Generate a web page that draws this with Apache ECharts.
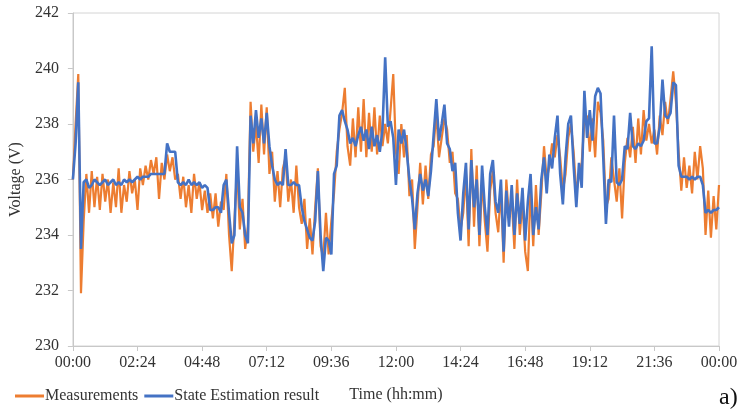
<!DOCTYPE html>
<html>
<head>
<meta charset="utf-8">
<script src="https://cdn.jsdelivr.net/npm/echarts@6/dist/echarts.min.js"></script>
<style>html,body{margin:0;padding:0;background:#fff;}#chart{width:747px;height:415px;}</style>
</head>
<body>
<div id="chart"></div>
<script>
// Sampling step of the traces in minutes (0 .. 1440)
var stepMinutes = 6;
var xTickLabels = ["00:00","02:24","04:48","07:12","09:36","12:00","14:24","16:48","19:12","21:36","00:00"];
var seriesNames = ["Measurements", "State Estimation result"];

var measurements = [
236.0,238.0,239.8,231.9,234.5,236.2,234.8,236.3,235.0,236.1,
234.9,236.2,235.2,236.0,234.8,235.9,235.0,236.4,234.8,235.8,
235.2,236.3,235.5,236.0,234.9,236.4,235.8,236.5,236.0,236.7,
236.2,236.8,235.3,236.6,236.0,236.9,236.3,236.8,236.0,236.2,
235.3,236.1,235.0,235.8,234.8,236.2,235.3,235.9,234.9,235.6,
234.8,235.5,234.6,235.5,234.3,235.2,234.9,236.2,234.0,232.7,
234.5,236.4,234.2,235.3,233.5,234.3,238.8,237.0,238.0,236.6,
238.7,236.9,238.6,236.2,237.0,235.2,236.3,235.0,236.4,236.8,
235.2,236.0,234.8,236.5,235.0,234.4,235.3,233.5,234.6,233.3,
235.0,236.4,233.6,233.2,234.8,233.3,234.5,235.5,237.0,237.8,
238.4,239.3,237.2,236.5,238.2,236.8,238.6,237.0,238.9,236.8,
238.4,237.0,238.6,236.9,238.3,237.2,238.0,237.3,238.5,239.8,
237.0,236.2,238.0,236.8,237.6,235.4,236.0,233.5,235.0,236.6,
235.1,236.5,235.3,236.9,237.2,238.4,236.8,237.5,238.2,237.8,
236.6,237.0,235.5,235.3,234.2,234.8,236.2,233.6,237.1,234.3,
236.5,233.6,236.0,234.5,233.4,235.6,236.3,234.8,234.1,235.7,
233.0,236.0,234.6,235.3,233.5,236.0,234.0,235.2,233.4,232.7,
235.7,233.6,235.8,234.0,235.5,237.2,236.0,236.5,237.3,236.8,
237.6,236.8,235.6,236.2,237.5,238.0,237.0,235.5,236.2,236.6,
238.1,238.3,237.0,238.2,236.8,238.8,238.4,237.4,235.0,235.3,
236.8,236.0,235.2,236.4,234.6,236.6,237.5,236.8,237.9,236.6,
238.2,236.9,238.5,237.4,238.0,237.3,237.8,236.9,238.3,237.6,
238.8,238.0,238.9,239.9,238.8,237.0,235.6,236.8,235.7,236.5,
235.5,237.0,236.0,237.2,236.4,234.0,235.6,233.9,235.4,234.2,
235.8
];

var stateEstimation = [
236.0,237.3,239.5,233.5,235.9,236.0,235.7,235.8,236.0,235.9,
235.8,235.9,236.0,235.8,235.9,236.0,235.8,235.9,235.8,236.0,
235.9,236.0,235.9,236.0,236.1,236.0,236.1,236.1,236.1,236.2,
236.2,236.2,236.2,236.2,236.2,237.3,237.0,237.0,237.0,235.9,
235.8,235.9,235.8,236.0,235.8,235.9,235.8,235.9,235.7,235.8,
235.7,234.9,234.9,235.0,235.0,234.8,235.8,236.0,234.8,233.7,
234.0,237.2,235.0,234.8,234.0,233.7,238.3,237.3,238.5,237.5,
238.2,237.3,238.4,237.2,236.5,236.0,235.8,235.9,235.8,237.1,
235.8,235.8,235.9,235.8,235.8,235.0,234.5,234.2,233.9,233.8,
234.5,236.3,234.0,232.7,233.9,233.8,233.3,236.2,236.5,238.3,
238.5,238.1,237.8,237.3,237.5,237.2,237.6,237.9,237.4,237.8,
237.1,237.9,237.2,237.6,237.0,237.8,240.4,237.9,238.1,237.5,
235.8,237.8,237.3,237.8,237.0,236.0,235.3,234.2,235.5,236.2,
235.6,236.0,235.4,236.3,237.6,238.9,237.4,238.0,238.7,237.3,
237.1,236.3,236.6,234.8,233.8,235.5,236.6,234.2,236.7,235.0,
236.0,234.0,236.5,235.0,234.0,236.2,236.7,235.2,234.8,236.0,
233.4,235.6,234.3,235.8,234.0,235.5,234.4,235.7,233.8,235.2,
236.2,234.0,235.0,234.2,236.0,236.8,235.5,236.9,236.4,237.5,
238.3,236.2,235.1,236.8,238.0,238.3,236.5,235.0,236.6,235.7,
239.2,237.5,238.5,237.4,239.0,239.3,239.1,236.8,234.4,236.0,
235.9,238.3,235.9,235.8,236.0,237.2,237.1,238.4,237.2,237.1,
237.3,237.2,237.4,238.1,238.2,240.8,237.3,237.3,237.9,239.6,
238.3,238.2,238.4,239.5,239.4,236.5,236.1,236.1,236.1,236.0,
236.1,236.0,236.1,236.1,235.8,234.8,234.9,234.8,234.9,234.9,
235.0
];

function toPairs(vals) {
  var out = [];
  for (var i = 0; i < vals.length; i++) out.push([i * stepMinutes, vals[i]]);
  return out;
}

var font = '"Liberation Serif", "Times New Roman", serif';
var textColor = '#333333';

var chart = echarts.init(document.getElementById('chart'));
chart.setOption({
  animation: false,
  backgroundColor: '#ffffff',
  textStyle: { fontFamily: font },
  grid: { left: 72, right: 28, top: 13, bottom: 69, show: true, borderColor: '#d4d4d4', borderWidth: 1, backgroundColor: 'transparent' },
  legend: {
    left: 10, top: 383,
    itemWidth: 29, itemHeight: 3, itemGap: 6, icon: 'rect',
    textStyle: { fontFamily: font, fontSize: 16, color: textColor, padding: [0, 0, 0, -4] },
    data: seriesNames
  },
  xAxis: {
    type: 'value', min: 0, max: 1440, interval: 144,
    name: 'Time (hh:mm)', nameLocation: 'middle', nameGap: 41,
    nameTextStyle: { fontFamily: font, fontSize: 16, color: textColor },
    axisLine: { show: true, lineStyle: { color: '#c8c8c8', width: 1 } },
    axisTick: { show: true, length: 5, lineStyle: { color: '#c8c8c8' } },
    splitLine: { show: false },
    axisLabel: {
      fontFamily: font, fontSize: 16, color: textColor, margin: 9,
      formatter: function (v) { return xTickLabels[Math.round(v / 144)]; }
    }
  },
  yAxis: {
    type: 'value', min: 230, max: 242, interval: 2,
    name: 'Voltage (V)', nameLocation: 'middle', nameGap: 45, nameRotate: 90,
    nameTextStyle: { fontFamily: font, fontSize: 16, color: textColor },
    axisLine: { show: true, lineStyle: { color: '#c8c8c8', width: 1 } },
    axisTick: { show: true, length: 5, lineStyle: { color: '#c8c8c8' } },
    splitLine: { show: false },
    axisLabel: { fontFamily: font, fontSize: 16, color: textColor, margin: 14 }
  },
  series: [
    {
      name: seriesNames[0], type: 'line', data: toPairs(measurements),
      showSymbol: false, symbol: 'none',
      lineStyle: { color: '#ED7D31', width: 2.2 }, itemStyle: { color: '#ED7D31' }, z: 2
    },
    {
      name: seriesNames[1], type: 'line', data: toPairs(stateEstimation),
      showSymbol: false, symbol: 'none',
      lineStyle: { color: '#4472C4', width: 2.6 }, itemStyle: { color: '#4472C4' }, z: 3
    }
  ],
  graphic: [
    { type: 'text', left: 719, top: 386, style: { text: 'a)', font: '24px ' + font, fill: '#111' } }
  ]
});
</script>
</body>
</html>
